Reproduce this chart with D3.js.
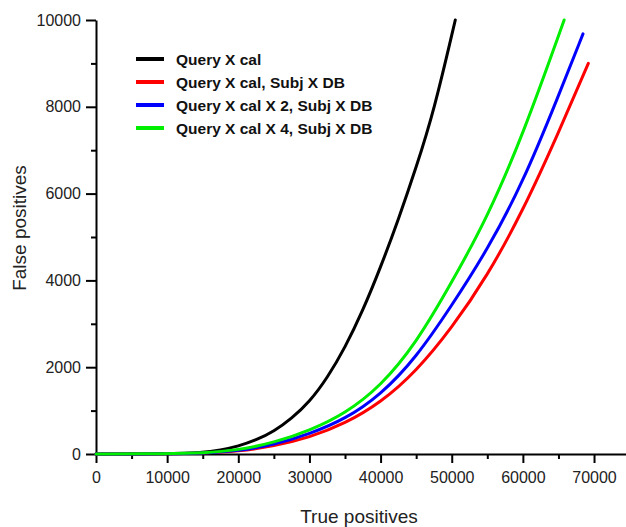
<!DOCTYPE html>
<html>
<head>
<meta charset="utf-8">
<script src="https://cdn.jsdelivr.net/npm/d3@7"></script>
<style>
  html, body { margin: 0; padding: 0; background: #fff; }
  svg { display: block; font-family: "Liberation Sans", Arial, sans-serif; }
</style>
</head>
<body>
<svg id="chart" width="626" height="527"></svg>
<script>
// ---- data ----
const seriesNames = [
  "Query X cal",
  "Query X cal, Subj X DB",
  "Query X cal X 2, Subj X DB",
  "Query X cal X 4, Subj X DB"
];
const seriesColors = ["#000000", "#ff0000", "#0000ff", "#00ee00"];

const blackTP = [0, 10000, 15000, 17500, 20000, 22500, 25000, 27500, 30000, 32500, 35000, 37500, 40000, 42500, 45000, 47500, 50500];
const blackFP = [0, 5, 30, 90, 180, 320, 520, 820, 1200, 1750, 2450, 3300, 4300, 5400, 6600, 7900, 10000];

const redTP = [0, 10000, 15000, 20000, 25000, 30000, 35000, 40000, 45000, 50000, 55000, 60000, 65000, 69200];
const redFP = [0, 3, 15, 60, 180, 380, 700, 1180, 1900, 2900, 4100, 5600, 7400, 9000];

const blueTP = [0, 10000, 15000, 20000, 25000, 30000, 35000, 40000, 45000, 50000, 55000, 60000, 65000, 68450];
const blueFP = [0, 3, 17, 70, 210, 460, 800, 1360, 2220, 3420, 4700, 6250, 8250, 9680];

const greenTP = [0, 10000, 15000, 20000, 25000, 30000, 35000, 40000, 45000, 50000, 55000, 60000, 65800];
const greenFP = [0, 5, 20, 90, 260, 540, 930, 1560, 2550, 3950, 5450, 7350, 10000];

const xMajorTicks = [0, 10000, 20000, 30000, 40000, 50000, 60000, 70000];
const xMinorTicks = [5000, 15000, 25000, 35000, 45000, 55000, 65000];
const yMajorTicks = [0, 2000, 4000, 6000, 8000, 10000];
const yMinorTicks = [1000, 3000, 5000, 7000, 9000];

const xTitle = "True positives";
const yTitle = "False positives";

// ---- build ----
const svg = d3.select("#chart");
const x = d3.scaleLinear().domain([0, 75000]).range([96, 629.6]);
const y = d3.scaleLinear().domain([0, 10000]).range([454, 20]);

const series = [
  { name: seriesNames[0], color: seriesColors[0], tp: blackTP, fp: blackFP },
  { name: seriesNames[1], color: seriesColors[1], tp: redTP, fp: redFP },
  { name: seriesNames[2], color: seriesColors[2], tp: blueTP, fp: blueFP },
  { name: seriesNames[3], color: seriesColors[3], tp: greenTP, fp: greenFP }
];

function styleAxis(g) {
  g.selectAll("path.domain").attr("stroke", "#000").attr("stroke-width", 2);
  g.selectAll(".tick line").attr("stroke", "#000").attr("stroke-width", 2);
  g.selectAll(".tick text").attr("fill", "#222").attr("font-size", 16)
    .attr("font-family", "Liberation Sans, Arial, sans-serif");
}

const gxMinor = svg.append("g").attr("transform", `translate(0,${y(0)})`)
  .call(d3.axisBottom(x).tickValues(xMinorTicks).tickFormat("").tickSize(5).tickSizeOuter(0));
gxMinor.select("path.domain").remove();
styleAxis(gxMinor);

const gx = svg.append("g").attr("transform", `translate(0,${y(0)})`)
  .call(d3.axisBottom(x).tickValues(xMajorTicks).tickFormat(d3.format("d")).tickSize(9).tickSizeOuter(0).tickPadding(9));
styleAxis(gx);

const gyMinor = svg.append("g").attr("transform", `translate(${x(0)},0)`)
  .call(d3.axisLeft(y).tickValues(yMinorTicks).tickFormat("").tickSize(5).tickSizeOuter(0));
gyMinor.select("path.domain").remove();
styleAxis(gyMinor);

const gy = svg.append("g").attr("transform", `translate(${x(0)},0)`)
  .call(d3.axisLeft(y).tickValues(yMajorTicks).tickFormat(d3.format("d")).tickSize(10).tickSizeOuter(0).tickPadding(5));
styleAxis(gy);

svg.append("text")
  .attr("x", 359).attr("y", 523)
  .attr("text-anchor", "middle")
  .attr("font-size", 19).attr("fill", "#222")
  .text(xTitle);

svg.append("text")
  .attr("transform", "translate(26,228) rotate(-90)")
  .attr("text-anchor", "middle")
  .attr("font-size", 19).attr("fill", "#222")
  .text(yTitle);

const line = d3.line()
  .x(d => x(d[0]))
  .y(d => y(d[1]))
  .curve(d3.curveBasis);

series.forEach(s => {
  const pts = s.tp.map((t, k) => [t, s.fp[k]]);
  svg.append("path")
    .datum(pts)
    .attr("fill", "none")
    .attr("stroke", s.color)
    .attr("stroke-width", 3)
    .attr("stroke-linejoin", "round")
    .attr("stroke-linecap", "round")
    .attr("d", line);
});

const legend = svg.append("g");
series.forEach((s, i) => {
  const yy = 59 + i * 23;
  legend.append("line")
    .attr("x1", 136).attr("x2", 164)
    .attr("y1", yy).attr("y2", yy)
    .attr("stroke", s.color).attr("stroke-width", 4);
  legend.append("text")
    .attr("x", 176).attr("y", yy)
    .attr("dy", "0.36em")
    .attr("font-size", 15.5).attr("font-weight", "bold").attr("fill", "#111")
    .text(s.name);
});
</script>
</body>
</html>
